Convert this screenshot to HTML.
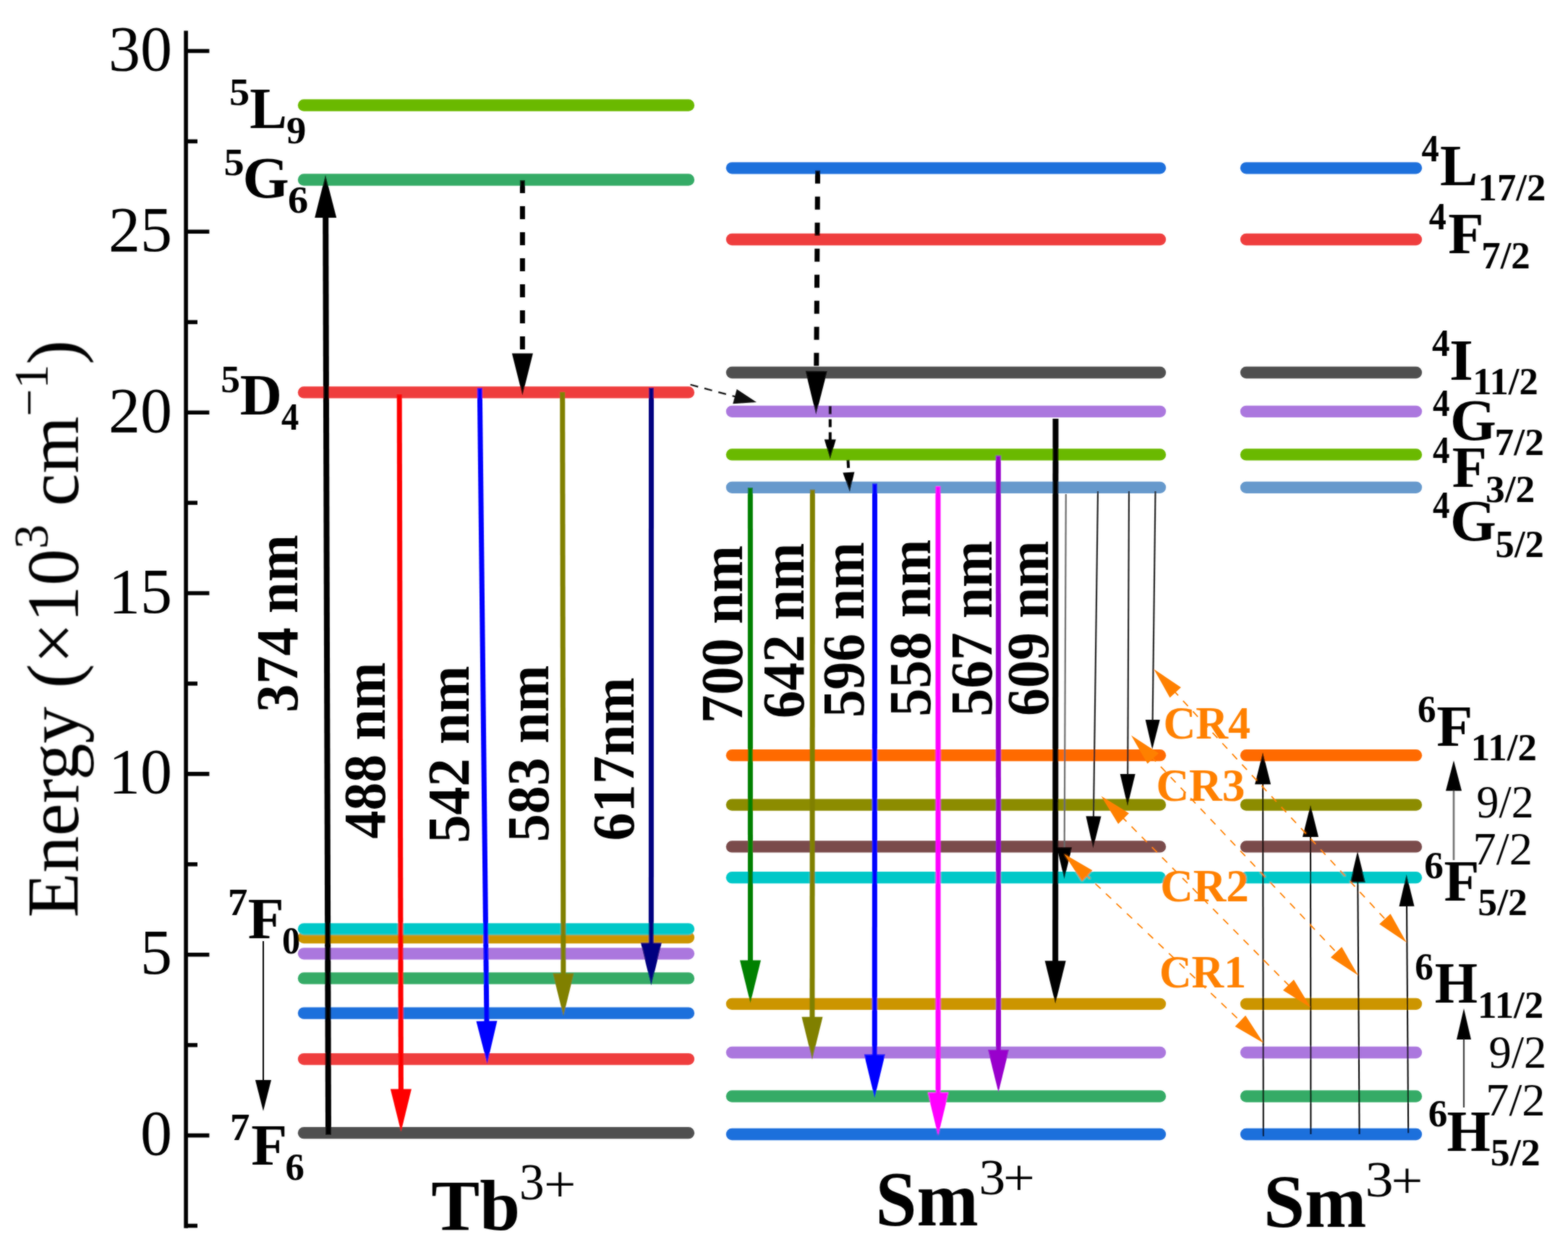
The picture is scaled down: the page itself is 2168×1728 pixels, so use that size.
<!DOCTYPE html>
<html><head><meta charset="utf-8"><title>Energy level diagram</title>
<style>html,body{margin:0;padding:0;background:#fff;}svg{display:block;}</style></head>
<body><svg width="2168" height="1728" viewBox="0 0 2168 1728">
<defs><filter id="soft" x="0" y="0" width="2168" height="1728" filterUnits="userSpaceOnUse"><feGaussianBlur in="SourceGraphic" stdDeviation="1" result="b"/><feComposite in="SourceGraphic" in2="b" operator="arithmetic" k1="0" k2="0.45" k3="0.55" k4="0"/></filter></defs>
<rect width="2168" height="1728" fill="#fff"/>
<g filter="url(#soft)">
<line x1="257.1" y1="42.6" x2="257.1" y2="1697.8" stroke="#000" stroke-width="5.6"/>
<line x1="257.1" y1="70.5" x2="289.4" y2="70.5" stroke="#000" stroke-width="5.6"/>
<line x1="257.1" y1="195.4" x2="273" y2="195.4" stroke="#000" stroke-width="5.6"/>
<line x1="257.1" y1="320.3" x2="289.4" y2="320.3" stroke="#000" stroke-width="5.6"/>
<line x1="257.1" y1="445.3" x2="273" y2="445.3" stroke="#000" stroke-width="5.6"/>
<line x1="257.1" y1="570.2" x2="289.4" y2="570.2" stroke="#000" stroke-width="5.6"/>
<line x1="257.1" y1="695.1" x2="273" y2="695.1" stroke="#000" stroke-width="5.6"/>
<line x1="257.1" y1="820.0" x2="289.4" y2="820.0" stroke="#000" stroke-width="5.6"/>
<line x1="257.1" y1="945.0" x2="273" y2="945.0" stroke="#000" stroke-width="5.6"/>
<line x1="257.1" y1="1069.9" x2="289.4" y2="1069.9" stroke="#000" stroke-width="5.6"/>
<line x1="257.1" y1="1194.8" x2="273" y2="1194.8" stroke="#000" stroke-width="5.6"/>
<line x1="257.1" y1="1319.8" x2="289.4" y2="1319.8" stroke="#000" stroke-width="5.6"/>
<line x1="257.1" y1="1444.7" x2="273" y2="1444.7" stroke="#000" stroke-width="5.6"/>
<line x1="257.1" y1="1569.6" x2="289.4" y2="1569.6" stroke="#000" stroke-width="5.6"/>
<line x1="257.1" y1="1694.5" x2="273" y2="1694.5" stroke="#000" stroke-width="5.6"/>
<text x="238" y="97.0" font-family="'Liberation Serif', 'Times New Roman', serif" font-size="88" text-anchor="end">30</text>
<text x="238" y="346.8" font-family="'Liberation Serif', 'Times New Roman', serif" font-size="88" text-anchor="end">25</text>
<text x="238" y="596.7" font-family="'Liberation Serif', 'Times New Roman', serif" font-size="88" text-anchor="end">20</text>
<text x="238" y="846.5" font-family="'Liberation Serif', 'Times New Roman', serif" font-size="88" text-anchor="end">15</text>
<text x="238" y="1096.4" font-family="'Liberation Serif', 'Times New Roman', serif" font-size="88" text-anchor="end">10</text>
<text x="238" y="1346.2" font-family="'Liberation Serif', 'Times New Roman', serif" font-size="88" text-anchor="end">5</text>
<text x="238" y="1596.1" font-family="'Liberation Serif', 'Times New Roman', serif" font-size="88" text-anchor="end">0</text>
<text transform="translate(107.8,1268.5) rotate(-90) scale(1.006,1)" font-family="'Liberation Serif', 'Times New Roman', serif" font-size="101">Energy (×10<tspan font-size="67" dy="-42">3</tspan><tspan dy="42"> cm</tspan><tspan font-size="67" dy="-45">−</tspan><tspan font-size="67" dy="3">1</tspan><tspan dy="42">)</tspan></text>
<line x1="420" y1="145.5" x2="952" y2="145.5" stroke="#6bb900" stroke-width="16.3" stroke-linecap="round"/>
<line x1="420" y1="248.5" x2="952" y2="248.5" stroke="#35ab66" stroke-width="16.3" stroke-linecap="round"/>
<line x1="420" y1="542.4" x2="952" y2="542.4" stroke="#ef3e3e" stroke-width="16.3" stroke-linecap="round"/>
<line x1="420" y1="1296" x2="952" y2="1296" stroke="#cc9500" stroke-width="16.3" stroke-linecap="round"/>
<line x1="420" y1="1284.3" x2="952" y2="1284.3" stroke="#00c8c8" stroke-width="16.3" stroke-linecap="round"/>
<line x1="420" y1="1318.3" x2="952" y2="1318.3" stroke="#ab77de" stroke-width="16.3" stroke-linecap="round"/>
<line x1="420" y1="1352.4" x2="952" y2="1352.4" stroke="#35ab66" stroke-width="16.3" stroke-linecap="round"/>
<line x1="420" y1="1400.6" x2="952" y2="1400.6" stroke="#1d6fdc" stroke-width="16.3" stroke-linecap="round"/>
<line x1="420" y1="1464.1" x2="952" y2="1464.1" stroke="#ef3e3e" stroke-width="16.3" stroke-linecap="round"/>
<line x1="420" y1="1566.2" x2="952" y2="1566.2" stroke="#505050" stroke-width="16.3" stroke-linecap="round"/>
<line x1="1012" y1="232.3" x2="1604" y2="232.3" stroke="#1d6fdc" stroke-width="16.3" stroke-linecap="round"/>
<line x1="1723" y1="232.3" x2="1958" y2="232.3" stroke="#1d6fdc" stroke-width="16.3" stroke-linecap="round"/>
<line x1="1012" y1="331" x2="1604" y2="331" stroke="#ef3e3e" stroke-width="16.3" stroke-linecap="round"/>
<line x1="1723" y1="331" x2="1958" y2="331" stroke="#ef3e3e" stroke-width="16.3" stroke-linecap="round"/>
<line x1="1012" y1="515" x2="1604" y2="515" stroke="#505050" stroke-width="16.3" stroke-linecap="round"/>
<line x1="1723" y1="515" x2="1958" y2="515" stroke="#505050" stroke-width="16.3" stroke-linecap="round"/>
<line x1="1012" y1="568.8" x2="1604" y2="568.8" stroke="#ab77de" stroke-width="16.3" stroke-linecap="round"/>
<line x1="1723" y1="568.8" x2="1958" y2="568.8" stroke="#ab77de" stroke-width="16.3" stroke-linecap="round"/>
<line x1="1012" y1="628.4" x2="1604" y2="628.4" stroke="#6bb900" stroke-width="16.3" stroke-linecap="round"/>
<line x1="1723" y1="628.4" x2="1958" y2="628.4" stroke="#6bb900" stroke-width="16.3" stroke-linecap="round"/>
<line x1="1012" y1="673.8" x2="1604" y2="673.8" stroke="#6699cc" stroke-width="16.3" stroke-linecap="round"/>
<line x1="1723" y1="673.8" x2="1958" y2="673.8" stroke="#6699cc" stroke-width="16.3" stroke-linecap="round"/>
<line x1="1012" y1="1044.2" x2="1604" y2="1044.2" stroke="#ff6a00" stroke-width="16.3" stroke-linecap="round"/>
<line x1="1723" y1="1044.2" x2="1958" y2="1044.2" stroke="#ff6a00" stroke-width="16.3" stroke-linecap="round"/>
<line x1="1012" y1="1112.6" x2="1604" y2="1112.6" stroke="#8c8c00" stroke-width="16.3" stroke-linecap="round"/>
<line x1="1723" y1="1112.6" x2="1958" y2="1112.6" stroke="#8c8c00" stroke-width="16.3" stroke-linecap="round"/>
<line x1="1012" y1="1170.4" x2="1604" y2="1170.4" stroke="#7a4b4b" stroke-width="16.3" stroke-linecap="round"/>
<line x1="1723" y1="1170.4" x2="1958" y2="1170.4" stroke="#7a4b4b" stroke-width="16.3" stroke-linecap="round"/>
<line x1="1012" y1="1213.2" x2="1604" y2="1213.2" stroke="#00c8c8" stroke-width="16.3" stroke-linecap="round"/>
<line x1="1723" y1="1213.2" x2="1958" y2="1213.2" stroke="#00c8c8" stroke-width="16.3" stroke-linecap="round"/>
<line x1="1012" y1="1387.8" x2="1604" y2="1387.8" stroke="#cc9500" stroke-width="16.3" stroke-linecap="round"/>
<line x1="1723" y1="1387.8" x2="1958" y2="1387.8" stroke="#cc9500" stroke-width="16.3" stroke-linecap="round"/>
<line x1="1012" y1="1455" x2="1604" y2="1455" stroke="#ab77de" stroke-width="16.3" stroke-linecap="round"/>
<line x1="1723" y1="1455" x2="1958" y2="1455" stroke="#ab77de" stroke-width="16.3" stroke-linecap="round"/>
<line x1="1012" y1="1515.5" x2="1604" y2="1515.5" stroke="#35ab66" stroke-width="16.3" stroke-linecap="round"/>
<line x1="1723" y1="1515.5" x2="1958" y2="1515.5" stroke="#35ab66" stroke-width="16.3" stroke-linecap="round"/>
<line x1="1012" y1="1568" x2="1604" y2="1568" stroke="#1d6fdc" stroke-width="16.3" stroke-linecap="round"/>
<line x1="1723" y1="1568" x2="1958" y2="1568" stroke="#1d6fdc" stroke-width="16.3" stroke-linecap="round"/>
<line x1="454.0" y1="1568.7" x2="450.2" y2="295.1" stroke="#000" stroke-width="8"/>
<polygon points="450.0,242.0 465.2,301.0 435.2,301.0" fill="#000"/>
<line x1="552.2" y1="545.0" x2="554.4" y2="1511.5" stroke="#ff0000" stroke-width="7"/>
<polygon points="554.5,1564.6 539.9,1505.6 568.9,1505.6" fill="#ff0000"/>
<line x1="663.3" y1="536.5" x2="673.0" y2="1417.4" stroke="#0000ff" stroke-width="7"/>
<polygon points="673.6,1470.5 658.5,1411.7 687.4,1411.3" fill="#0000ff"/>
<line x1="777.7" y1="542.0" x2="778.9" y2="1351.4" stroke="#808000" stroke-width="7"/>
<polygon points="779.0,1404.5 764.4,1345.5 793.4,1345.5" fill="#808000"/>
<line x1="900.5" y1="536.0" x2="900.4" y2="1309.1" stroke="#000080" stroke-width="7"/>
<polygon points="900.4,1362.2 885.9,1303.2 914.9,1303.2" fill="#000080"/>
<line x1="364.0" y1="1301.0" x2="364.0" y2="1497.3" stroke="#000" stroke-width="2"/>
<polygon points="364.0,1536.0 353.0,1493.0 375.0,1493.0" fill="#000"/>
<line x1="722.4" y1="249.0" x2="722.4" y2="494.4" stroke="#000" stroke-width="7" stroke-dasharray="18 18"/>
<polygon points="722.4,546.6 707.9,488.6 736.9,488.6" fill="#000"/>
<line x1="1130.6" y1="235.8" x2="1128.7" y2="518.9" stroke="#000" stroke-width="7" stroke-dasharray="18 18"/>
<polygon points="1128.3,572.9 1113.7,512.8 1143.7,513.0" fill="#000"/>
<line x1="1147.8" y1="561.5" x2="1147.8" y2="610.2" stroke="#000" stroke-width="4" stroke-dasharray="11 7"/>
<polygon points="1147.8,634.5 1139.8,607.5 1155.8,607.5" fill="#000"/>
<line x1="1172.5" y1="635.8" x2="1173.6" y2="655.7" stroke="#000" stroke-width="4" stroke-dasharray="11 7"/>
<polygon points="1174.9,680.0 1165.4,653.5 1181.4,652.6" fill="#000"/>
<line x1="954.6" y1="531.8" x2="1019.0" y2="548.9" stroke="#111" stroke-width="2.2" stroke-dasharray="11 9"/>
<polygon points="1046.0,556.0 1013.3,558.2 1018.7,537.9" fill="#111"/>
<line x1="1037.4" y1="674.0" x2="1037.5" y2="1333.5" stroke="#008000" stroke-width="7"/>
<polygon points="1037.5,1386.6 1023.0,1327.6 1052.0,1327.6" fill="#008000"/>
<line x1="1123.4" y1="676.7" x2="1123.0" y2="1411.7" stroke="#808000" stroke-width="7"/>
<polygon points="1123.0,1464.8 1108.5,1405.8 1137.5,1405.8" fill="#808000"/>
<line x1="1209.5" y1="668.6" x2="1209.3" y2="1463.4" stroke="#0000ff" stroke-width="7"/>
<polygon points="1209.3,1517.4 1194.8,1457.4 1223.8,1457.4" fill="#0000ff"/>
<line x1="1297.0" y1="672.0" x2="1297.1" y2="1516.0" stroke="#ff00ff" stroke-width="7"/>
<polygon points="1297.1,1570.0 1282.6,1510.0 1311.6,1510.0" fill="#ff00ff"/>
<line x1="1380.3" y1="629.7" x2="1380.5" y2="1456.9" stroke="#9900cc" stroke-width="7"/>
<polygon points="1380.5,1510.0 1366.0,1451.0 1395.0,1451.0" fill="#9900cc"/>
<line x1="1459.5" y1="578.7" x2="1459.2" y2="1334.2" stroke="#000" stroke-width="8"/>
<polygon points="1459.2,1387.3 1444.7,1328.3 1473.7,1328.3" fill="#000"/>
<line x1="1473.8" y1="682.9" x2="1471.7" y2="1175.4" stroke="#6a6a6a" stroke-width="2.2"/>
<polygon points="1471.5,1215.0 1461.2,1171.0 1482.2,1171.0" fill="#000"/>
<line x1="1518.0" y1="679.0" x2="1511.9" y2="1132.8" stroke="#222" stroke-width="2.2"/>
<polygon points="1511.4,1172.4 1501.5,1128.3 1522.5,1128.5" fill="#000"/>
<line x1="1561.0" y1="679.0" x2="1559.2" y2="1074.4" stroke="#222" stroke-width="2.2"/>
<polygon points="1559.0,1114.0 1548.7,1070.0 1569.7,1070.0" fill="#000"/>
<line x1="1597.5" y1="679.0" x2="1593.6" y2="999.1" stroke="#222" stroke-width="2.2"/>
<polygon points="1593.2,1036.0 1583.7,994.9 1603.7,995.1" fill="#000"/>
<line x1="1746.8" y1="1570.7" x2="1746.1" y2="1079.9" stroke="#000" stroke-width="2"/>
<polygon points="1746.0,1040.3 1757.1,1084.3 1735.1,1084.3" fill="#000"/>
<line x1="1812.4" y1="1568.0" x2="1812.0" y2="1152.6" stroke="#000" stroke-width="2"/>
<polygon points="1812.0,1113.0 1823.0,1157.0 1801.0,1157.0" fill="#000"/>
<line x1="1879.6" y1="1568.0" x2="1877.3" y2="1215.5" stroke="#000" stroke-width="2"/>
<polygon points="1877.0,1176.8 1887.8,1219.7 1866.8,1219.9" fill="#000"/>
<line x1="1947.2" y1="1566.3" x2="1945.0" y2="1248.4" stroke="#000" stroke-width="2"/>
<polygon points="1944.7,1208.8 1955.5,1252.7 1934.5,1252.9" fill="#000"/>
<line x1="2010.0" y1="1189.0" x2="2010.0" y2="1089.1" stroke="#707070" stroke-width="2.6"/>
<polygon points="2010.0,1051.3 2021.0,1093.3 1999.0,1093.3" fill="#000"/>
<line x1="2024.0" y1="1531.0" x2="2024.0" y2="1432.7" stroke="#404040" stroke-width="2.2"/>
<polygon points="2024.0,1394.0 2034.0,1437.0 2014.0,1437.0" fill="#000"/>
<line x1="1500.0" y1="1207.8" x2="1718.1" y2="1414.5" stroke="#ff8000" stroke-width="1.8" stroke-dasharray="10 10"/>
<polygon points="1746.8,1441.7 1707.6,1419.1 1722.1,1403.8" fill="#ff8000"/>
<polygon points="1471.3,1180.6 1496.0,1218.5 1510.5,1203.2" fill="#ff8000"/>
<line x1="1550.5" y1="1128.5" x2="1784.5" y2="1364.8" stroke="#ff8000" stroke-width="1.8" stroke-dasharray="10 10"/>
<polygon points="1812.4,1392.9 1774.0,1369.0 1788.9,1354.3" fill="#ff8000"/>
<polygon points="1522.6,1100.4 1546.1,1139.0 1561.0,1124.3" fill="#ff8000"/>
<line x1="1591.2" y1="1045.3" x2="1850.6" y2="1319.5" stroke="#ff8000" stroke-width="1.8" stroke-dasharray="10 10"/>
<polygon points="1877.8,1348.3 1839.9,1323.5 1855.2,1309.1" fill="#ff8000"/>
<polygon points="1564.0,1016.5 1586.6,1055.7 1601.9,1041.3" fill="#ff8000"/>
<line x1="1622.2" y1="954.1" x2="1917.8" y2="1273.6" stroke="#ff8000" stroke-width="1.8" stroke-dasharray="10 10"/>
<polygon points="1944.7,1302.7 1907.1,1277.5 1922.5,1263.3" fill="#ff8000"/>
<polygon points="1595.3,925.0 1617.5,964.4 1632.9,950.2" fill="#ff8000"/>
<text transform="translate(317.1,145.4) scale(1.065,1)" font-family="'Liberation Serif', 'Times New Roman', serif" font-size="53.0" font-weight="bold" fill="#000">5</text>
<text transform="translate(345.3,177.3) scale(0.954,1)" font-family="'Liberation Serif', 'Times New Roman', serif" font-size="81.0" font-weight="bold" fill="#000">L</text>
<text transform="translate(395.9,198.2) scale(1.033,1)" font-family="'Liberation Serif', 'Times New Roman', serif" font-size="53.0" font-weight="bold" fill="#000">9</text>
<text transform="translate(309.6,242.2) scale(1.065,1)" font-family="'Liberation Serif', 'Times New Roman', serif" font-size="53.0" font-weight="bold" fill="#000">5</text>
<text transform="translate(335.5,273.3) scale(1.019,1)" font-family="'Liberation Serif', 'Times New Roman', serif" font-size="81.0" font-weight="bold" fill="#000">G</text>
<text transform="translate(398.0,293.8) scale(1.063,1)" font-family="'Liberation Serif', 'Times New Roman', serif" font-size="53.0" font-weight="bold" fill="#000">6</text>
<text transform="translate(305.2,541.6) scale(1.012,1)" font-family="'Liberation Serif', 'Times New Roman', serif" font-size="53.0" font-weight="bold" fill="#000">5</text>
<text transform="translate(331.8,573.3) scale(0.994,1)" font-family="'Liberation Serif', 'Times New Roman', serif" font-size="81.0" font-weight="bold" fill="#000">D</text>
<text transform="translate(389.1,593.7) scale(0.916,1)" font-family="'Liberation Serif', 'Times New Roman', serif" font-size="53.0" font-weight="bold" fill="#000">4</text>
<text transform="translate(314.9,1264.5) scale(1.037,1)" font-family="'Liberation Serif', 'Times New Roman', serif" font-size="53.0" font-weight="bold" fill="#000">7</text>
<text transform="translate(342.7,1296.8) scale(1.009,1)" font-family="'Liberation Serif', 'Times New Roman', serif" font-size="81.0" font-weight="bold" fill="#000">F</text>
<text transform="translate(389.9,1317.8) scale(0.957,1)" font-family="'Liberation Serif', 'Times New Roman', serif" font-size="53.0" font-weight="bold" fill="#000">0</text>
<text transform="translate(318.0,1576.4) scale(1.037,1)" font-family="'Liberation Serif', 'Times New Roman', serif" font-size="53.0" font-weight="bold" fill="#000">7</text>
<text transform="translate(347.3,1610.2) scale(1.009,1)" font-family="'Liberation Serif', 'Times New Roman', serif" font-size="81.0" font-weight="bold" fill="#000">F</text>
<text transform="translate(394.6,1631.2) scale(0.994,1)" font-family="'Liberation Serif', 'Times New Roman', serif" font-size="53.0" font-weight="bold" fill="#000">6</text>
<text transform="translate(1965.6,223.0) scale(0.916,1)" font-family="'Liberation Serif', 'Times New Roman', serif" font-size="53.0" font-weight="bold" fill="#000">4</text>
<text transform="translate(1991.1,255.8) scale(0.965,1)" font-family="'Liberation Serif', 'Times New Roman', serif" font-size="81.0" font-weight="bold" fill="#000">L</text>
<text transform="translate(2043.6,276.8) scale(0.994,1)" font-family="'Liberation Serif', 'Times New Roman', serif" font-size="53.0" font-weight="bold" fill="#000">17/2</text>
<text transform="translate(1975.8,317.0) scale(0.908,1)" font-family="'Liberation Serif', 'Times New Roman', serif" font-size="53.0" font-weight="bold" fill="#000">4</text>
<text transform="translate(2002.3,349.8) scale(0.997,1)" font-family="'Liberation Serif', 'Times New Roman', serif" font-size="81.0" font-weight="bold" fill="#000">F</text>
<text transform="translate(2048.2,370.8) scale(0.998,1)" font-family="'Liberation Serif', 'Times New Roman', serif" font-size="53.0" font-weight="bold" fill="#000">7/2</text>
<text transform="translate(1980.0,492.4) scale(0.928,1)" font-family="'Liberation Serif', 'Times New Roman', serif" font-size="53.0" font-weight="bold" fill="#000">4</text>
<text transform="translate(2004.1,524.9) scale(1.044,1)" font-family="'Liberation Serif', 'Times New Roman', serif" font-size="81.0" font-weight="bold" fill="#000">I</text>
<text transform="translate(2036.2,545.3) scale(0.992,1)" font-family="'Liberation Serif', 'Times New Roman', serif" font-size="53.0" font-weight="bold" fill="#000">11/2</text>
<text transform="translate(1981.1,575.2) scale(0.887,1)" font-family="'Liberation Serif', 'Times New Roman', serif" font-size="53.0" font-weight="bold" fill="#000">4</text>
<text transform="translate(2005.0,607.9) scale(1.013,1)" font-family="'Liberation Serif', 'Times New Roman', serif" font-size="81.0" font-weight="bold" fill="#000">G</text>
<text transform="translate(2066.6,629.1) scale(1.008,1)" font-family="'Liberation Serif', 'Times New Roman', serif" font-size="53.0" font-weight="bold" fill="#000">7/2</text>
<text transform="translate(1981.1,640.1) scale(0.887,1)" font-family="'Liberation Serif', 'Times New Roman', serif" font-size="53.0" font-weight="bold" fill="#000">4</text>
<text transform="translate(2007.7,672.6) scale(0.972,1)" font-family="'Liberation Serif', 'Times New Roman', serif" font-size="81.0" font-weight="bold" fill="#000">F</text>
<text transform="translate(2054.0,694.1) scale(1.009,1)" font-family="'Liberation Serif', 'Times New Roman', serif" font-size="53.0" font-weight="bold" fill="#000">3/2</text>
<text transform="translate(1981.1,715.6) scale(0.887,1)" font-family="'Liberation Serif', 'Times New Roman', serif" font-size="53.0" font-weight="bold" fill="#000">4</text>
<text transform="translate(2005.0,747.2) scale(1.013,1)" font-family="'Liberation Serif', 'Times New Roman', serif" font-size="81.0" font-weight="bold" fill="#000">G</text>
<text transform="translate(2067.6,769.5) scale(0.993,1)" font-family="'Liberation Serif', 'Times New Roman', serif" font-size="53.0" font-weight="bold" fill="#000">5/2</text>
<text transform="translate(1960.0,997.7) scale(0.964,1)" font-family="'Liberation Serif', 'Times New Roman', serif" font-size="53.0" font-weight="bold" fill="#000">6</text>
<text transform="translate(1986.3,1030.8) scale(1.011,1)" font-family="'Liberation Serif', 'Times New Roman', serif" font-size="81.0" font-weight="bold" fill="#000">F</text>
<text transform="translate(2033.8,1050.8) scale(0.998,1)" font-family="'Liberation Serif', 'Times New Roman', serif" font-size="53.0" font-weight="bold" fill="#000">11/2</text>
<text transform="translate(2041.6,1129.8) scale(0.981,1)" font-family="'Liberation Serif', 'Times New Roman', serif" font-size="63.0" fill="#000">9/2</text>
<text transform="translate(2036.6,1195.0) scale(1.022,1)" font-family="'Liberation Serif', 'Times New Roman', serif" font-size="63.0" fill="#000">7/2</text>
<text transform="translate(1969.2,1213.7) scale(1.003,1)" font-family="'Liberation Serif', 'Times New Roman', serif" font-size="53.0" font-weight="bold" fill="#000">6</text>
<text transform="translate(1996.6,1245.0) scale(0.988,1)" font-family="'Liberation Serif', 'Times New Roman', serif" font-size="81.0" font-weight="bold" fill="#000">F</text>
<text transform="translate(2043.3,1264.9) scale(1.014,1)" font-family="'Liberation Serif', 'Times New Roman', serif" font-size="53.0" font-weight="bold" fill="#000">5/2</text>
<text transform="translate(1956.3,1354.4) scale(0.964,1)" font-family="'Liberation Serif', 'Times New Roman', serif" font-size="53.0" font-weight="bold" fill="#000">6</text>
<text transform="translate(1983.7,1385.7) scale(0.941,1)" font-family="'Liberation Serif', 'Times New Roman', serif" font-size="81.0" font-weight="bold" fill="#000">H</text>
<text transform="translate(2043.1,1406.5) scale(0.999,1)" font-family="'Liberation Serif', 'Times New Roman', serif" font-size="53.0" font-weight="bold" fill="#000">11/2</text>
<text transform="translate(2058.4,1476.4) scale(0.993,1)" font-family="'Liberation Serif', 'Times New Roman', serif" font-size="63.0" fill="#000">9/2</text>
<text transform="translate(2054.3,1541.5) scale(1.022,1)" font-family="'Liberation Serif', 'Times New Roman', serif" font-size="63.0" fill="#000">7/2</text>
<text transform="translate(1974.8,1556.5) scale(1.003,1)" font-family="'Liberation Serif', 'Times New Roman', serif" font-size="53.0" font-weight="bold" fill="#000">6</text>
<text transform="translate(2000.4,1590.5) scale(0.957,1)" font-family="'Liberation Serif', 'Times New Roman', serif" font-size="81.0" font-weight="bold" fill="#000">H</text>
<text transform="translate(2060.8,1610.5) scale(1.017,1)" font-family="'Liberation Serif', 'Times New Roman', serif" font-size="53.0" font-weight="bold" fill="#000">5/2</text>
<text transform="translate(596.2,1699.8) scale(1.018,1)" font-family="'Liberation Serif', 'Times New Roman', serif" font-size="98.6" font-weight="bold" fill="#000">Tb</text>
<text transform="translate(717.9,1658.3) scale(0.969,1)" font-family="'Liberation Serif', 'Times New Roman', serif" font-size="71.4" fill="#000">3</text>
<text transform="translate(752.1,1661.0) scale(1.111,1)" font-family="'Liberation Serif', 'Times New Roman', serif" font-size="71.0" fill="#000">+</text>
<text transform="translate(1210.6,1694.0) scale(0.953,1)" font-family="'Liberation Serif', 'Times New Roman', serif" font-size="107.5" font-weight="bold" fill="#000">Sm</text>
<text transform="translate(1353.5,1650.6) scale(1.035,1)" font-family="'Liberation Serif', 'Times New Roman', serif" font-size="70.8" fill="#000">3</text>
<text transform="translate(1387.1,1652.0) scale(1.096,1)" font-family="'Liberation Serif', 'Times New Roman', serif" font-size="71.0" fill="#000">+</text>
<text transform="translate(1746.9,1696.0) scale(0.978,1)" font-family="'Liberation Serif', 'Times New Roman', serif" font-size="104.8" font-weight="bold" fill="#000">Sm</text>
<text transform="translate(1887.6,1654.3) scale(1.106,1)" font-family="'Liberation Serif', 'Times New Roman', serif" font-size="70.7" fill="#000">3</text>
<text transform="translate(1923.5,1656.0) scale(1.096,1)" font-family="'Liberation Serif', 'Times New Roman', serif" font-size="71.0" fill="#000">+</text>
<text transform="translate(1608.6,1020.9) scale(0.984,1)" font-family="'Liberation Serif', 'Times New Roman', serif" font-size="63.0" font-weight="bold" fill="#ff8000">CR4</text>
<text transform="translate(1598.4,1107.4) scale(1.005,1)" font-family="'Liberation Serif', 'Times New Roman', serif" font-size="63.0" font-weight="bold" fill="#ff8000">CR3</text>
<text transform="translate(1604.2,1246.4) scale(1.002,1)" font-family="'Liberation Serif', 'Times New Roman', serif" font-size="63.0" font-weight="bold" fill="#ff8000">CR2</text>
<text transform="translate(1603.0,1365.4) scale(0.981,1)" font-family="'Liberation Serif', 'Times New Roman', serif" font-size="63.0" font-weight="bold" fill="#ff8000">CR1</text>
<text transform="translate(411.3,984.9) rotate(-90) scale(0.955,1)" font-family="'Liberation Serif', 'Times New Roman', serif" font-size="82.0" font-weight="bold" fill="#000">374 nm</text>
<text transform="translate(532.2,1159.4) rotate(-90) scale(0.948,1)" font-family="'Liberation Serif', 'Times New Roman', serif" font-size="82.0" font-weight="bold" fill="#000">488 nm</text>
<text transform="translate(648.0,1165.6) rotate(-90) scale(0.952,1)" font-family="'Liberation Serif', 'Times New Roman', serif" font-size="82.0" font-weight="bold" fill="#000">542 nm</text>
<text transform="translate(758.4,1164.1) rotate(-90) scale(0.950,1)" font-family="'Liberation Serif', 'Times New Roman', serif" font-size="82.0" font-weight="bold" fill="#000">583 nm</text>
<text transform="translate(875.7,1162.4) rotate(-90) scale(0.955,1)" font-family="'Liberation Serif', 'Times New Roman', serif" font-size="82.0" font-weight="bold" fill="#000">617nm</text>
<text transform="translate(1026.2,1000.0) rotate(-90) scale(0.956,1)" font-family="'Liberation Serif', 'Times New Roman', serif" font-size="82.0" font-weight="bold" fill="#000">700 nm</text>
<text transform="translate(1111.2,993.2) rotate(-90) scale(0.942,1)" font-family="'Liberation Serif', 'Times New Roman', serif" font-size="82.0" font-weight="bold" fill="#000">642 nm</text>
<text transform="translate(1194.1,992.1) rotate(-90) scale(0.944,1)" font-family="'Liberation Serif', 'Times New Roman', serif" font-size="82.0" font-weight="bold" fill="#000">596 nm</text>
<text transform="translate(1286.0,990.4) rotate(-90) scale(0.951,1)" font-family="'Liberation Serif', 'Times New Roman', serif" font-size="82.0" font-weight="bold" fill="#000">558 nm</text>
<text transform="translate(1371.0,990.4) rotate(-90) scale(0.944,1)" font-family="'Liberation Serif', 'Times New Roman', serif" font-size="82.0" font-weight="bold" fill="#000">567 nm</text>
<text transform="translate(1448.9,989.9) rotate(-90) scale(0.942,1)" font-family="'Liberation Serif', 'Times New Roman', serif" font-size="82.0" font-weight="bold" fill="#000">609 nm</text>
</g>
</svg></body></html>
